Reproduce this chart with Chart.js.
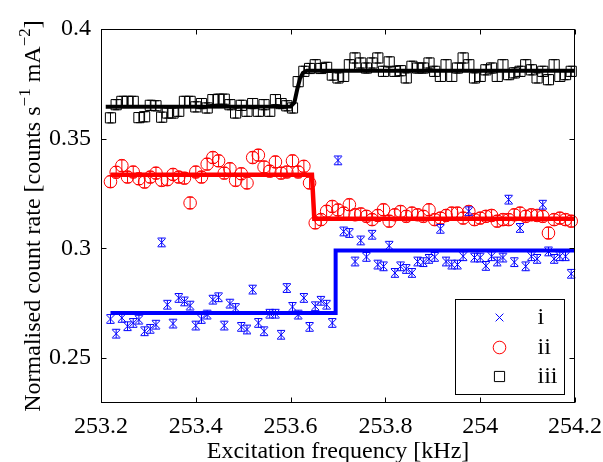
<!DOCTYPE html>
<html>
<head>
<meta charset="utf-8">
<script src="https://cdn.jsdelivr.net/npm/chart.js@4.4.0/dist/chart.umd.min.js"></script>
<style>
  html, body { margin: 0; padding: 0; background: #fff; }
  #wrap { width: 603px; height: 462px; position: relative; }
</style>
</head>
<body>
<div id="wrap"><canvas id="chart1" width="603" height="462"></canvas></div>
<script>
// excitation frequencies [kHz]
const freqs = [
  253.220, 253.232, 253.244, 253.256, 253.268, 253.280, 253.292, 253.304, 253.316, 253.328,
  253.340, 253.352, 253.364, 253.376, 253.388, 253.400, 253.412, 253.424, 253.436, 253.448,
  253.460, 253.472, 253.484, 253.496, 253.508, 253.520, 253.532, 253.544, 253.556, 253.568,
  253.580, 253.592, 253.604, 253.616, 253.628, 253.640, 253.652, 253.664, 253.676, 253.688,
  253.700, 253.712, 253.724, 253.736, 253.748, 253.760, 253.772, 253.784, 253.796, 253.808,
  253.820, 253.832, 253.844, 253.856, 253.868, 253.880, 253.892, 253.904, 253.916, 253.928,
  253.940, 253.952, 253.964, 253.976, 253.988, 254.000, 254.012, 254.024, 254.036, 254.048,
  254.060, 254.072, 254.084, 254.096, 254.108, 254.120, 254.132, 254.144, 254.156, 254.168,
  254.180, 254.192
];

const seriesI = [
  0.2678, 0.2611, 0.2683, 0.2645, 0.2660, 0.2675, 0.2622, 0.2633, 0.2652, 0.3027,
  0.2743, 0.2657, 0.2774, 0.2758, 0.2739, 0.2648, 0.2678, 0.2698, 0.2766, 0.2777,
  0.2648, 0.2748, 0.2728, 0.2642, 0.2630, 0.2812, 0.2660, 0.2622, 0.2702, 0.2702,
  0.2606, 0.2819, 0.2733, 0.2698, 0.2774, 0.2642, 0.2736, 0.2761, 0.2743, 0.2660,
  0.3401, 0.3077, 0.3070, 0.2940, 0.3036, 0.2961, 0.3062, 0.2926, 0.2918, 0.3012,
  0.2888, 0.2918, 0.2906, 0.2888, 0.2940, 0.2937, 0.2952, 0.2961, 0.3089, 0.2940,
  0.2926, 0.2926, 0.2964, 0.3169, 0.2958, 0.2958, 0.2920, 0.2964, 0.2940, 0.2958,
  0.3222, 0.2937, 0.3093, 0.2918, 0.2964, 0.2952, 0.3199, 0.2986, 0.2952, 0.2964,
  0.2964, 0.2884
];

const seriesII = [
  0.3304, 0.3347, 0.3377, 0.3325, 0.3348, 0.3317, 0.3302, 0.3325, 0.3343, 0.3310,
  0.3313, 0.3337, 0.3325, 0.3320, 0.3207, 0.3348, 0.3325, 0.3384, 0.3414, 0.3399,
  0.3343, 0.3363, 0.3310, 0.3340, 0.3298, 0.3414, 0.3425, 0.3371, 0.3352, 0.3394,
  0.3343, 0.3348, 0.3399, 0.3348, 0.3374, 0.3298, 0.3116, 0.3131, 0.3169, 0.3191,
  0.3175, 0.3161, 0.3199, 0.3153, 0.3157, 0.3146, 0.3131, 0.3150, 0.3176, 0.3124,
  0.3153, 0.3168, 0.3146, 0.3161, 0.3153, 0.3146, 0.3176, 0.3131, 0.3138, 0.3150,
  0.3161, 0.3161, 0.3138, 0.3168, 0.3131, 0.3138, 0.3146, 0.3150, 0.3124, 0.3131,
  0.3131, 0.3153, 0.3161, 0.3146, 0.3153, 0.3150, 0.3146, 0.3070, 0.3131, 0.3138,
  0.3131, 0.3124
];

const seriesIII = [
  0.3595, 0.3655, 0.3670, 0.3670, 0.3670, 0.3596, 0.3600, 0.3652, 0.3650, 0.3598,
  0.3617, 0.3617, 0.3625, 0.3670, 0.3670, 0.3645, 0.3660, 0.3640, 0.3678, 0.3680,
  0.3680, 0.3655, 0.3617, 0.3652, 0.3625, 0.3660, 0.3625, 0.3655, 0.3625, 0.3678,
  0.3660, 0.3650, 0.3640, 0.3760, 0.3807, 0.3820, 0.3837, 0.3820, 0.3825, 0.3790,
  0.3777, 0.3784, 0.3837, 0.3868, 0.3845, 0.3822, 0.3845, 0.3868, 0.3807, 0.3850,
  0.3807, 0.3810, 0.3777, 0.3830, 0.3822, 0.3822, 0.3845, 0.3807, 0.3784, 0.3837,
  0.3784, 0.3822, 0.3868, 0.3837, 0.3777, 0.3784, 0.3814, 0.3822, 0.3784, 0.3837,
  0.3792, 0.3800, 0.3807, 0.3837, 0.3814, 0.3777, 0.3807, 0.3769, 0.3837, 0.3784,
  0.3792, 0.3807
];

// half-widths of the error bars
const errI = 0.0020;
const errII = 0.0026;
const errIII = 0.0023;

// fitted step curves
const fitIFreq = [253.22, 253.695, 253.695, 254.2];
const fitIVal = [0.2705, 0.2705, 0.2990, 0.2990];
const fitIIFreq = [253.22, 253.645, 253.650, 254.2];
const fitIIVal = [0.3336, 0.3336, 0.3135, 0.3135];
const fitIIIFreq = [253.21, 253.600, 253.608, 253.614, 253.620, 253.626, 253.634, 254.2];
const fitIIIVal = [0.3645, 0.3647, 0.3665, 0.3725, 0.3775, 0.3800, 0.3810, 0.3810];

const xTicks = [253.2, 253.4, 253.6, 253.8, 254, 254.2];
const yTicks = [0.25, 0.3, 0.35, 0.4];
const legendLabels = ['i', 'ii', 'iii'];

const FONT = 'Liberation Serif';
const BLUE = '#0000ff', RED = '#ff0000', BLACK = '#000000';

function pts(xs, ys){ return xs.map((x, i) => ({x, y: ys[i]})); }

// vertical error bars with caps
const errorBars = {
  id: 'errorBars',
  afterDatasetDraw(chart, args){
    const ds = chart.data.datasets[args.index];
    if(!ds.errorBar) return;
    const {ctx} = chart;
    const ys = chart.scales.y;
    const meta = args.meta;
    ctx.save();
    ctx.strokeStyle = ds.borderColor;
    ctx.lineWidth = 1;
    ds.data.forEach((p, i) => {
      const px = meta.data[i].x;
      const y0 = ys.getPixelForValue(p.y - ds.errorBar);
      const y1 = ys.getPixelForValue(p.y + ds.errorBar);
      const c = ds.capHalf;
      ctx.beginPath();
      ctx.moveTo(px, y0); ctx.lineTo(px, y1);
      ctx.moveTo(px - c, y0); ctx.lineTo(px + c, y0);
      ctx.moveTo(px - c, y1); ctx.lineTo(px + c, y1);
      ctx.stroke();
    });
    ctx.restore();
  }
};

// box around the axes, ticks pointing inwards
const frame = {
  id: 'frame',
  afterDatasetsDraw(chart){
    const {ctx, chartArea: a, scales} = chart;
    const len = 5;
    ctx.save();
    ctx.strokeStyle = '#000';
    ctx.lineWidth = 1;
    const L = Math.round(a.left) + 0.5, R = Math.round(a.right) - 0.5;
    const T = Math.round(a.top) + 0.5, B = Math.round(a.bottom) - 0.5;
    ctx.strokeRect(L, T, R - L, B - T);
    ctx.beginPath();
    xTicks.forEach(v => {
      const px = Math.round(scales.x.getPixelForValue(v)) + 0.5;
      ctx.moveTo(px, B); ctx.lineTo(px, B - len);
      ctx.moveTo(px, T); ctx.lineTo(px, T + len);
    });
    yTicks.forEach(v => {
      const py = Math.round(scales.y.getPixelForValue(v)) + 0.5;
      ctx.moveTo(L, py); ctx.lineTo(L + len, py);
      ctx.moveTo(R, py); ctx.lineTo(R - len, py);
    });
    ctx.stroke();
    ctx.restore();
  }
};

// y axis title with superscripts
const yTitle = {
  id: 'yTitle',
  afterDraw(chart){
    const {ctx, chartArea: a} = chart;
    const parts = [
      ['Normalised count rate [counts s', false],
      ['\u22121', true],
      [' mA', false],
      ['\u22122', true],
      [']', false]
    ];
    const big = '24px "' + FONT + '"', small = '17px "' + FONT + '"';
    ctx.save();
    let total = 0;
    parts.forEach(([t, sup]) => { ctx.font = sup ? small : big; total += ctx.measureText(t).width; });
    ctx.translate(40, (a.top + a.bottom) / 2);
    ctx.rotate(-Math.PI / 2);
    ctx.fillStyle = '#000';
    ctx.textBaseline = 'alphabetic';
    let x = -total / 2;
    parts.forEach(([t, sup]) => {
      ctx.font = sup ? small : big;
      ctx.fillText(t, x, sup ? -10 : 0);
      x += ctx.measureText(t).width;
    });
    ctx.restore();
  }
};

// legend box in the lower right corner of the axes
const legendBox = {
  id: 'legendBox',
  afterDraw(chart){
    const {ctx, chartArea: a} = chart;
    const left = Math.round(a.right) - 120 + 0.5, top = Math.round(a.bottom) - 104 + 0.5;
    const w = 109, h = 95;
    ctx.save();
    ctx.fillStyle = '#fff';
    ctx.fillRect(left, top, w, h);
    ctx.strokeStyle = '#000';
    ctx.lineWidth = 1;
    ctx.strokeRect(left, top, w, h);
    const styles = [
      {color: BLUE, pointStyle: 'crossRot', radius: 5.5},
      {color: RED, pointStyle: 'circle', radius: 6.3},
      {color: BLACK, pointStyle: 'rect', radius: 7.2}
    ];
    const rows = [18, 48, 77];
    legendLabels.forEach((lab, i) => {
      const cy = top + rows[i];
      ctx.strokeStyle = styles[i].color;
      ctx.fillStyle = 'rgba(0,0,0,0)';
      ctx.lineWidth = 1;
      Chart.helpers.drawPoint(ctx, {pointStyle: styles[i].pointStyle, radius: styles[i].radius, rotation: 0, borderWidth: 1}, left + 44, cy);
      ctx.fillStyle = '#000';
      ctx.font = '24px "' + FONT + '"';
      ctx.textBaseline = 'middle';
      ctx.textAlign = 'left';
      ctx.fillText(lab, left + 82, cy);
    });
    ctx.restore();
  }
};

function markerSet(label, vals, color, style, radius, err, cap){
  return {
    label,
    data: pts(freqs, vals),
    showLine: false,
    pointStyle: style,
    pointRadius: radius,
    pointHoverRadius: radius,
    pointBorderWidth: 1,
    pointBorderColor: color,
    pointBackgroundColor: 'rgba(0,0,0,0)',
    borderColor: color,
    errorBar: err,
    capHalf: cap,
    clip: false,
    order: 2
  };
}

function fitSet(label, xs, ys, color, width){
  return {
    label,
    data: pts(xs, ys),
    showLine: true,
    borderColor: color,
    borderWidth: width,
    pointRadius: 0,
    tension: 0,
    fill: false,
    order: 1
  };
}

const ctx = document.getElementById('chart1').getContext('2d');
const chart = new Chart(ctx, {
  type: 'scatter',
  data: {
    datasets: [
      markerSet('i', seriesI, BLUE, 'crossRot', 5.5, errI, 4),
      markerSet('ii', seriesII, RED, 'circle', 6.3, errII, 3),
      markerSet('iii', seriesIII, BLACK, 'rect', 7.2, errIII, 3),
      fitSet('fit i', fitIFreq, fitIVal, BLUE, 4),
      fitSet('fit ii', fitIIFreq, fitIIVal, RED, 4.5),
      fitSet('fit iii', fitIIIFreq, fitIIIVal, BLACK, 4)
    ]
  },
  options: {
    responsive: false,
    animation: false,
    layout: { padding: { left: 0, right: 28, top: 29, bottom: 0 } },
    plugins: {
      legend: { display: false },
      tooltip: { enabled: false }
    },
    scales: {
      x: {
        type: 'linear',
        position: 'bottom',
        min: 253.2,
        max: 254.2,
        afterBuildTicks: s => { s.ticks = xTicks.map(v => ({value: v})); },
        afterFit: s => { s.height = 59; s.paddingLeft = 0; s.paddingRight = 0; },
        grid: { display: false, drawTicks: false },
        border: { display: false },
        ticks: {
          color: '#000',
          font: { family: FONT, size: 24 },
          padding: 9,
          maxRotation: 0,
          autoSkip: false,
          callback: v => String(v)
        },
        title: {
          display: true,
          text: 'Excitation frequency [kHz]',
          color: '#000',
          font: { family: FONT, size: 24 },
          padding: { top: 0, bottom: -4 }
        }
      },
      y: {
        type: 'linear',
        min: 0.2295,
        max: 0.4,
        afterBuildTicks: s => { s.ticks = yTicks.map(v => ({value: v})); },
        afterFit: s => { s.width = 101; s.paddingTop = 0; s.paddingBottom = 0; },
        grid: { display: false, drawTicks: false },
        border: { display: false },
        ticks: {
          color: '#000',
          font: { family: FONT, size: 24 },
          padding: 10,
          callback: v => String(+v.toFixed(2))
        }
      }
    }
  },
  plugins: [errorBars, frame, yTitle, legendBox]
});
</script>
</body>
</html>
